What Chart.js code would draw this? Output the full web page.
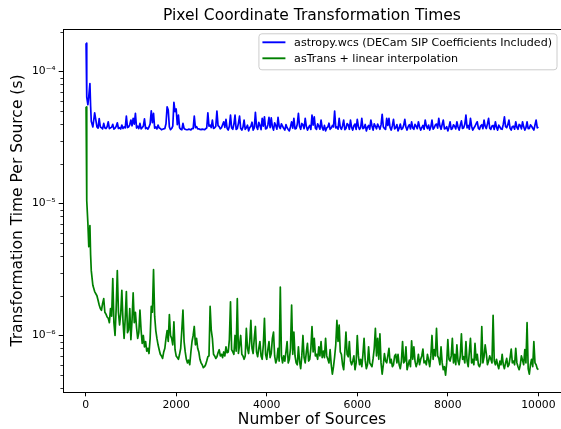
<!DOCTYPE html>
<html>
<head>
<meta charset="utf-8">
<script src="https://cdn.jsdelivr.net/npm/chart.js@4.4.1/dist/chart.umd.min.js"></script>
<style>
  html, body { margin: 0; padding: 0; background: #fff; }
  #wrap { width: 561px; height: 429px; }
</style>
</head>
<body>
<div id="wrap"><canvas id="timesChart" width="561" height="429"></canvas></div>
<script>
// sampling of the x axis (number of sources): a fine head, then every 25 sources
const headSources = [10, 20, 30, 50, 70, 95, 110, 125, 160, 200];
const tailStart = 250;
const tailStep = 25;

// time per source, in microseconds
const astropyHead = [164, 100, 64, 56, 65, 81, 55, 42, 38, 48.7];
const astropyTail = [
  38, 37.2, 44, 38, 37.5, 36.8, 40.5, 37.4, 37, 38.2, 41.6, 36.9, 37.5, 37.8, 39.8, 36.6, 37.2, 38.4, 40.9, 37,
  37.5, 36.7, 39.3, 37.1, 38, 37.4, 46, 37.6, 38, 39.5, 42.9, 38.8, 44.2, 40, 48.2, 37.3, 38.5, 37, 40.5, 36.8,
  37.5, 38.6, 43.8, 36.9, 37.5, 36.6, 38, 40.1, 50.4, 41, 48.2, 37.2, 38, 36.7, 39.3, 37.4, 37, 36.2, 36.5, 36.8,
  37, 40.2, 54.1, 51, 38, 36.3, 37, 38.5, 58.4, 49.6, 52, 39.5, 46.8, 37.5, 36.5, 36.2, 40.5, 37, 36.5, 36.3,
  36.2, 36.6, 36.5, 36.1, 37, 36.9, 46, 37.5, 38.2, 36.7, 36.8, 36.4, 36.3, 36.6, 36.5, 36.2, 36.8, 37.3, 48.7, 38.5,
  39.3, 37.6, 42.9, 37, 37.5, 38.4, 50.2, 38.9, 38.2, 36.8, 37.5, 39.5, 41.6, 37.7, 43.4, 37.2, 36, 38.5, 46.8, 37.3,
  36.5, 39.8, 46.8, 36.4, 37, 40.5, 46, 37.1, 36, 37.8, 42.9, 36.5, 37.5, 39.2, 35.5, 37.6, 38.5, 41.3, 36, 37.4,
  49, 38.2, 36.5, 41.2, 39, 36.3, 44.2, 38.6, 45.4, 36.8, 37, 39.4, 45, 37.6, 44.6, 38.1, 36, 40.8, 39, 36.6,
  45, 38.3, 37, 40.2, 38.5, 37.1, 36, 39.6, 37.5, 36.4, 35.5, 38.2, 41.6, 37.3, 44.2, 36.7, 37, 39.8, 48.2, 38.5,
  36.5, 40.4, 39.5, 36.9, 44.2, 38.3, 36, 37.7, 39, 36.4, 46.8, 39.2, 45.4, 37.2, 36.5, 40.1, 38.5, 36.6, 42.9, 37.5,
  36, 39.1, 35.5, 37.4, 38, 40.6, 36.5, 37.3, 39, 38.1, 50.2, 37.4, 38, 36.6, 44.2, 37.8, 36.5, 38.9, 42.9, 36.2,
  37, 40.3, 39.5, 36.5, 42.9, 37.7, 36, 38.8, 40, 36.4, 43.4, 38.2, 36.5, 37.6, 44.2, 36.9, 37.5, 39.7, 35.5, 37.9,
  39, 36.6, 42.9, 38.7, 36, 40.2, 38.5, 36.8, 40, 38.3, 36.5, 39.4, 47.4, 38.1, 37, 36.4, 44.2, 39, 44.2, 37.5,
  36, 38.9, 43.4, 36.7, 37.5, 39.6, 35.5, 37.2, 40, 36.4, 37, 39.1, 43.4, 37.8, 36, 38.3, 39.5, 36.7, 41.6, 37.4,
  36.5, 39.8, 38.5, 36.9, 41.6, 38.2, 36, 37.6, 39, 36.5, 42.9, 38.7, 37, 39.3, 36, 38.1, 42.9, 36.6, 37.5, 39.4,
  40, 37.3, 44.2, 38.6, 36.5, 39.7, 42.9, 36.8, 37, 38.2, 35.5, 37.9, 41.6, 36.4, 37, 39.5, 38.5, 36.7, 41.6, 38,
  36, 39.2, 42.3, 37, 37.5, 39.8, 46.8, 37.4, 39, 36.6, 44.2, 38.5, 36, 37.3, 38.5, 40.2, 41.6, 37.1, 36.5, 38.8,
  39.5, 36.9, 42.9, 38.4, 37, 40.1, 44.2, 37.2, 36.5, 38.6, 39, 36.4, 41.6, 37.9, 36, 39.2, 38, 36.7, 36.5, 39.9,
  45.4, 38.2, 37.5, 39.6, 42.9, 37.1, 36, 38.3, 38.5, 36.6, 41.6, 37.8, 36.5, 39.7, 39, 36.8, 41.6, 38.1, 36, 37.5,
  41.6, 36.9, 37, 39.4, 38.5, 37.2, 36, 39.3, 42.9, 37.4, 38
];

const asTransHead = [54, 18, 10.5, 7.1, 4.7, 6.8, 4.1, 3.1, 2.4, 2.15];
const asTransTail = [
  2.0, 1.85, 1.7, 1.6, 1.55, 1.75, 1.9, 1.5, 1.45, 1.38, 1.35, 1.25, 1.6, 1.4, 2.7, 1.25, 1.0, 1.6, 3.1, 1.5,
  1.2, 1.45, 2.2, 1.3, 0.95, 1.35, 2.15, 1.05, 1.1, 1.6, 0.93, 1.3, 2.1, 1.25, 1.5, 1.15, 0.95, 1.05, 1.56, 1.1,
  0.87, 1.0, 0.82, 0.9, 0.76, 0.8, 0.73, 0.95, 1.66, 1.5, 3.15, 1.4, 1.09, 0.95, 0.85, 0.78, 0.72, 0.7, 0.67, 0.75,
  0.8, 0.95, 1.09, 0.9, 1.44, 1.0, 0.95, 0.85, 1.27, 0.78, 0.7, 0.68, 0.66, 0.72, 0.8, 1.1, 1.56, 0.9, 0.75, 0.66,
  0.62, 0.65, 0.6, 0.75, 0.9, 1.0, 1.17, 0.85, 0.95, 0.8, 0.75, 0.66, 0.62, 0.6, 0.57, 0.58, 0.6, 0.64, 0.69, 0.7,
  1.66, 1.1, 0.95, 0.72, 0.7, 0.67, 0.69, 0.74, 0.78, 0.7, 0.72, 0.68, 0.75, 0.7, 0.82, 0.74, 0.75, 0.93, 1.8, 0.78,
  0.75, 0.72, 1.0, 0.76, 1.9, 0.73, 0.85, 1.0, 0.72, 0.7, 0.66, 0.7, 1.13, 0.8, 0.73, 0.9, 1.3, 0.8, 0.73, 0.95,
  1.17, 0.75, 0.69, 0.8, 0.9, 0.7, 0.66, 0.85, 1.35, 0.72, 0.66, 0.78, 0.9, 0.68, 0.73, 0.95, 1.06, 0.7, 0.62, 0.66,
  0.8, 0.64, 2.33, 0.7, 0.62, 0.7, 0.64, 0.75, 0.9, 0.62, 0.66, 0.8, 1.7, 0.72, 1.06, 0.7, 0.62, 0.6, 0.82, 0.64,
  0.56, 0.7, 1.0, 0.68, 0.62, 0.75, 0.87, 0.64, 0.66, 0.8, 1.17, 0.75, 0.95, 0.7, 0.72, 0.66, 0.82, 0.7, 0.9, 0.68,
  0.76, 0.68, 0.95, 0.7, 0.66, 0.62, 0.78, 0.6, 0.51, 0.58, 0.69, 0.85, 1.3, 0.9, 1.2, 0.75, 0.72, 0.6, 0.55, 0.75,
  1.06, 0.72, 0.69, 0.9, 0.64, 0.6, 0.64, 0.7, 0.55, 0.62, 1.0, 0.7, 0.6, 0.66, 0.58, 0.72, 0.95, 0.65, 0.56, 0.6,
  0.82, 0.62, 0.6, 0.58, 0.67, 0.8, 1.13, 0.7, 0.95, 0.66, 1.03, 0.62, 0.51, 0.6, 0.73, 0.64, 0.62, 0.7, 0.8, 0.62,
  0.66, 0.58, 0.6, 0.7, 0.72, 0.62, 0.72, 0.6, 0.56, 0.64, 0.9, 0.62, 0.64, 0.82, 0.55, 0.6, 0.65, 0.58, 0.91, 0.66,
  0.82, 0.64, 0.58, 0.62, 0.72, 0.6, 0.66, 0.7, 0.79, 0.62, 0.64, 0.6, 0.72, 0.65, 0.58, 0.7, 1.0, 0.66, 0.78, 0.7,
  1.13, 0.7, 0.67, 0.6, 0.82, 0.62, 0.55, 0.58, 0.5, 0.62, 0.93, 0.66, 0.64, 0.7, 0.95, 0.62, 0.72, 0.6, 0.85, 0.64,
  0.6, 0.7, 1.03, 0.66, 0.69, 0.62, 0.9, 0.64, 0.58, 0.75, 0.95, 0.62, 0.66, 0.6, 0.87, 0.65, 0.72, 0.6, 0.58, 0.62,
  1.17, 0.62, 0.69, 0.85, 0.73, 0.6, 0.64, 0.7, 0.66, 0.62, 1.42, 0.64, 0.6, 0.66, 0.6, 0.56, 0.64, 0.6, 0.72, 0.6,
  0.56, 0.62, 0.67, 0.58, 0.6, 0.68, 0.79, 0.62, 0.64, 0.6, 0.8, 0.62, 0.58, 0.55, 0.6, 0.7, 0.65, 0.6, 0.78, 0.62,
  1.25, 0.56, 0.51, 0.6, 0.66, 0.58, 0.9, 0.62, 0.6, 0.56, 0.55
];

const seriesLabels = ['astropy.wcs (DECam SIP Coefficients Included)', 'asTrans + linear interpolation'];
const seriesColors = ['#0000ff', '#008000'];

const xTicks = [0, 2000, 4000, 6000, 8000, 10000];
const yMajorTicks = [1e-6, 1e-5, 1e-4];
const yTickLabels = ['10\u207B\u2076', '10\u207B\u2075', '10\u207B\u2074'];
const yMinorTicks = [
  4e-7, 5e-7, 6e-7, 7e-7, 8e-7, 9e-7,
  2e-6, 3e-6, 4e-6, 5e-6, 6e-6, 7e-6, 8e-6, 9e-6,
  2e-5, 3e-5, 4e-5, 5e-5, 6e-5, 7e-5, 8e-5, 9e-5,
  2e-4
];

const FONT = 'DejaVu Sans';

function toPoints(head, tail) {
  const xs = headSources.concat(tail.map((_, i) => tailStart + i * tailStep));
  const ys = head.concat(tail);
  return xs.map((x, i) => ({ x: x, y: ys[i] * 1e-6 }));
}

// matplotlib-like frame, minor log ticks and boxed legend
const mplExtras = {
  id: 'mplExtras',
  afterDraw(chart) {
    const ctx = chart.ctx;
    const ca = chart.chartArea;
    const yScale = chart.scales.y;
    ctx.save();

    ctx.strokeStyle = '#000';
    ctx.lineWidth = 1;
    ctx.beginPath();
    ctx.moveTo(ca.left, Math.round(ca.top) + 0.5);
    ctx.lineTo(ca.right, Math.round(ca.top) + 0.5);
    ctx.stroke();

    ctx.lineWidth = 0.8;
    yMinorTicks.forEach(v => {
      const py = Math.round(yScale.getPixelForValue(v)) + 0.5;
      ctx.beginPath();
      ctx.moveTo(ca.left - 2.6, py);
      ctx.lineTo(ca.left, py);
      ctx.stroke();
    });

    // legend
    ctx.font = '11.1px "' + FONT + '"';
    const textW = Math.max(...seriesLabels.map(t => ctx.measureText(t).width));
    const right = ca.right - 4.5;
    const top = ca.top + 4.3;
    const left = right - (4 + 23 + 8.7 + textW + 4.5);
    const height = 36;
    ctx.beginPath();
    ctx.roundRect(left + 0.5, top + 0.5, right - left, height, 3);
    ctx.fillStyle = 'rgba(255,255,255,0.8)';
    ctx.fill();
    ctx.strokeStyle = '#cccccc';
    ctx.lineWidth = 1;
    ctx.stroke();

    ctx.textBaseline = 'middle';
    ctx.textAlign = 'left';
    seriesLabels.forEach((label, i) => {
      const cy = top + 9 + i * 16;
      ctx.strokeStyle = seriesColors[i];
      ctx.lineWidth = 1.9;
      ctx.beginPath();
      ctx.moveTo(left + 4, cy);
      ctx.lineTo(left + 27, cy);
      ctx.stroke();
      ctx.fillStyle = '#000';
      ctx.fillText(label, left + 35.7, cy + 0.5);
    });
    ctx.restore();
  }
};

new Chart(document.getElementById('timesChart'), {
  type: 'line',
  data: {
    datasets: [
      {
        label: seriesLabels[0],
        data: toPoints(astropyHead, astropyTail),
        borderColor: seriesColors[0],
        borderWidth: 1.7,
        pointRadius: 0,
        tension: 0,
        borderJoinStyle: 'round',
        order: 1
      },
      {
        label: seriesLabels[1],
        data: toPoints(asTransHead, asTransTail),
        borderColor: seriesColors[1],
        borderWidth: 1.7,
        pointRadius: 0,
        tension: 0,
        borderJoinStyle: 'round',
        order: 0
      }
    ]
  },
  options: {
    responsive: false,
    animation: false,
    devicePixelRatio: 1,
    layout: { padding: { left: 0, right: 0, top: 0, bottom: 0 } },
    plugins: {
      legend: { display: false },
      tooltip: { enabled: false },
      title: {
        display: true,
        fullSize: false,
        text: 'Pixel Coordinate Transformation Times',
        color: '#000',
        font: { family: FONT, size: 15.5, weight: 'normal' },
        padding: { top: 7, bottom: 3.4 }
      }
    },
    scales: {
      x: {
        type: 'linear',
        min: -499.5,
        max: 10499.5,
        afterBuildTicks: s => { s.ticks = xTicks.map(v => ({ value: v })); },
        afterFit: s => { s.height = 37; },
        ticks: {
          callback: v => String(v),
          color: '#000',
          font: { family: FONT, size: 10.8 },
          padding: 2,
          maxRotation: 0,
          autoSkip: false
        },
        grid: { drawOnChartArea: false, drawTicks: true, tickLength: 4.3, tickColor: '#000', tickWidth: 1 },
        border: { display: true, color: '#000', width: 1 },
        title: {
          display: true,
          text: 'Number of Sources',
          color: '#000',
          font: { family: FONT, size: 15.5 },
          padding: { top: 0, bottom: 0 }
        }
      },
      y: {
        type: 'logarithmic',
        min: 3.73e-7,
        max: 2.1e-4,
        afterBuildTicks: s => { s.ticks = yMajorTicks.map(v => ({ value: v, major: true })); },
        afterFit: s => { s.width = 63; },
        ticks: {
          callback: (v, i) => yTickLabels[i],
          color: '#000',
          font: { family: FONT, size: 10.8 },
          padding: 3,
          autoSkip: false
        },
        grid: { drawOnChartArea: false, drawTicks: true, tickLength: 4.3, tickColor: '#000', tickWidth: 1 },
        border: { display: true, color: '#000', width: 1 },
        title: {
          display: true,
          text: 'Transformation Time Per Source (s)',
          color: '#000',
          font: { family: FONT, size: 15.5 },
          padding: { top: 9, bottom: 0 }
        }
      }
    }
  },
  plugins: [mplExtras]
});
</script>
</body>
</html>
